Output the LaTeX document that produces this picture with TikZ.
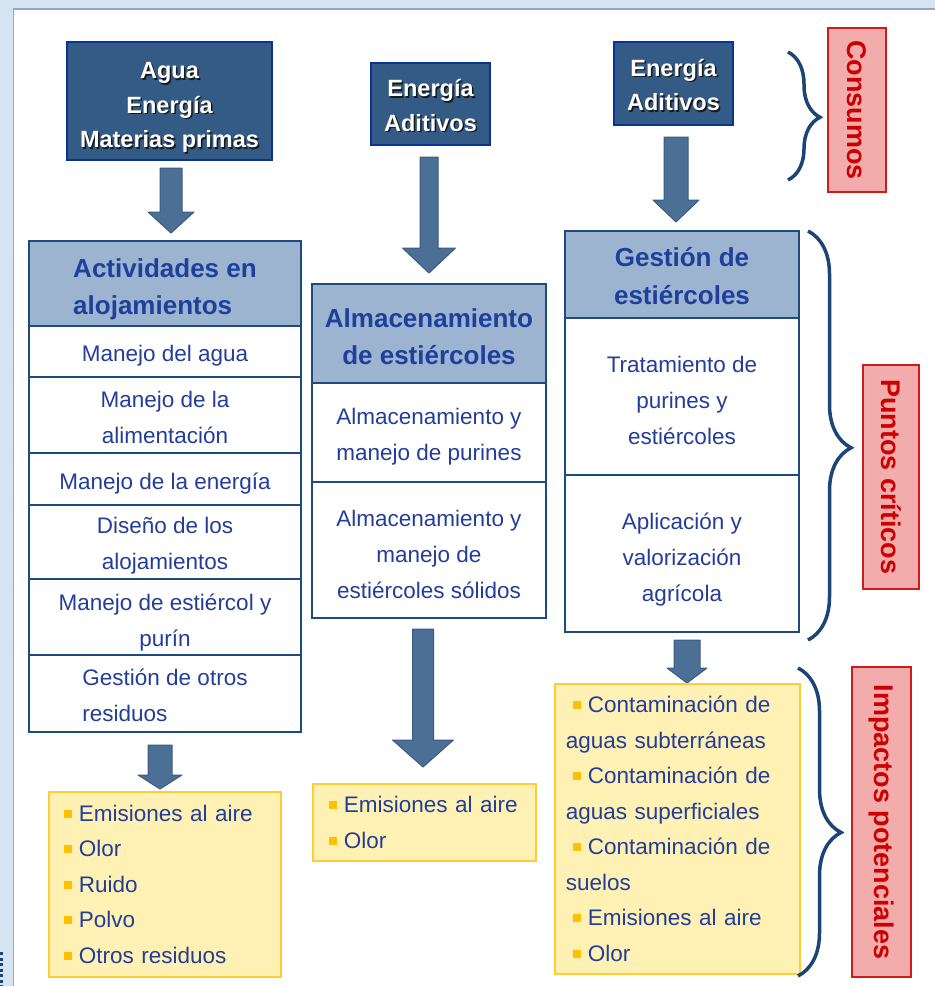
\documentclass[tikz,border=0pt]{standalone}
\usepackage{fontspec}
\setmainfont{Liberation Sans}
\usetikzlibrary{decorations.pathreplacing,calc}
\definecolor{bgblue}{HTML}{D6E3F1}
\definecolor{framel}{HTML}{8EA9C8}
\definecolor{dboxfill}{HTML}{335B85}
\definecolor{dboxline}{HTML}{0A3399}
\definecolor{hdrfill}{HTML}{9CB4CF}
\definecolor{hdrtext}{HTML}{1E3F9C}
\definecolor{celltext}{HTML}{233E99}
\definecolor{cellline}{HTML}{1F4A7C}
\definecolor{arrowfill}{HTML}{4C6F96}
\definecolor{arrowline}{HTML}{3A5C84}
\definecolor{yfill}{HTML}{FFF0B4}
\definecolor{yline}{HTML}{FFCC33}
\definecolor{bulc}{HTML}{FFC000}
\definecolor{bracec}{HTML}{1B4577}
\definecolor{redfill}{HTML}{F3ACAC}
\definecolor{redline}{HTML}{D11A1A}
\definecolor{redtext}{HTML}{CC0000}
\newcommand\bul{{\color{bulc}\rule[3.5pt]{8pt}{8pt}}\hspace{7pt}}
\newcommand\blockarrow[6]{%
  \filldraw[fill=arrowfill, draw=arrowline, line width=1pt, line join=round]
    (#1-#5,#2) -- (#1+#5,#2) -- (#1+#5,#3) -- (#1+#6,#3) -- (#1,#4)
    -- (#1-#6,#3) -- (#1-#5,#3) -- cycle;}
\begin{document}
\begin{tikzpicture}[x=1pt,y=-1pt,
  cell/.style={draw=cellline, line width=1.6pt, fill=white, inner sep=0pt},
  celltxt/.style={text=celltext, font=\fontsize{22.5}{36}\selectfont, align=center, inner sep=0pt},
  hdr/.style={draw=cellline, line width=1.6pt, fill=hdrfill, inner sep=0pt},
  hdrtxt/.style={text=hdrtext, font=\bfseries\fontsize{26}{37.5}\selectfont, align=center, inner sep=0pt},
  dbox/.style={draw=dboxline, line width=2.5pt, fill=dboxfill, inner sep=0pt},
  dtext/.style={text=white, font=\bfseries\fontsize{23.5}{34.5}\selectfont, align=center, inner sep=0pt},
  dshadow/.style={dtext, text=black!90},
  ybox/.style={draw=yline, line width=1.8pt, fill=yfill, inner ysep=0pt,
    text=celltext, font=\fontsize{22.5}{35.5}\selectfont, align=left, anchor=north west},
  redlab/.style={draw=redline, line width=1.2pt, fill=redfill, inner sep=0pt,
    text=redtext, font=\bfseries\fontsize{27}{30}\selectfont, rotate=-90},
  bracestyle/.style={draw=bracec, line width=3.5pt, decorate}
]
\useasboundingbox (0,0) rectangle (935,986);
\fill[bgblue] (0,0) rectangle (935,986);
\filldraw[draw=framel, line width=1.5pt, fill=white] (13.5,9) rectangle (950,1000);
\draw[bracec, line width=3pt, dash pattern=on 3pt off 2.5pt] (1.5,952) -- (1.5,986);

% ---- top dark boxes
\node[dbox, minimum width=205pt, minimum height=118pt] (d1) at (169.5,101) {};
\node[dshadow] (d1s) at (171,109) {Agua\\Energía\\Materias primas};
\node[dtext] (d1t) at (169.5,107.5) {Agua\\Energía\\Materias primas};

\node[dbox, minimum width=119pt, minimum height=82pt] (d2) at (430.5,104) {};
\node[dshadow] (d2s) at (432,107) {Energía\\Aditivos};
\node[dtext] (d2t) at (430.5,105.5) {Energía\\Aditivos};

\node[dbox, minimum width=119pt, minimum height=83pt] (d3) at (673.5,83.5) {};
\node[dshadow] (d3s) at (675,86.5) {Energía\\Aditivos};
\node[dtext] (d3t) at (673.5,85) {Energía\\Aditivos};

% ---- block arrows
\blockarrow{171}{168}{212}{233}{11}{23}
\blockarrow{429}{157}{248}{273}{9}{26.5}
\blockarrow{676}{137}{200}{222}{12}{23}
\blockarrow{160}{745}{775}{789}{12}{22}
\blockarrow{423}{629}{740}{767}{10.5}{30.5}
\blockarrow{687}{640}{668}{683}{13}{20}

% ---- column 1
\node[hdr, minimum width=272pt, minimum height=85pt] (c1h) at (165,283.5) {};
\node[hdrtxt, align=left] (c1ht) at (165,289.5) {Actividades en\\alojamientos};
\node[cell, minimum width=272pt, minimum height=51pt] (c1a) at (165,351.5) {};
\node[celltxt] (c1at) at (165,355.5) {Manejo del agua};
\node[cell, minimum width=272pt, minimum height=76pt] (c1b) at (165,415) {};
\node[celltxt] (c1bt) at (165,417.5) {Manejo de la\\alimentación};
\node[cell, minimum width=272pt, minimum height=52pt] (c1c) at (165,479) {};
\node[celltxt] (c1ct) at (165,484) {Manejo de la energía};
\node[cell, minimum width=272pt, minimum height=74pt] (c1d) at (165,542) {};
\node[celltxt] (c1dt) at (165,545.5) {Diseño de los\\alojamientos};
\node[cell, minimum width=272pt, minimum height=76pt] (c1e) at (165,617) {};
\node[celltxt] (c1et) at (165,622.5) {Manejo de estiércol y\\purín};
\node[cell, minimum width=272pt, minimum height=77pt] (c1f) at (165,693.5) {};
\node[celltxt, align=left] (c1ft) at (165,695.5) {Gestión de otros\\residuos};

% ---- column 2
\node[hdr, minimum width=234pt, minimum height=99pt] (c2h) at (429,333.5) {};
\node[hdrtxt] (c2ht) at (429,336.5) {Almacenamiento\\de estiércoles};
\node[cell, minimum width=234pt, minimum height=99pt] (c2a) at (429,432.5) {};
\node[celltxt] (c2at) at (429,436.5) {Almacenamiento y\\manejo de purines};
\node[cell, minimum width=234pt, minimum height=136pt] (c2b) at (429,550) {};
\node[celltxt] (c2bt) at (429,554) {Almacenamiento y\\manejo de\\estiércoles sólidos};

% ---- column 3
\node[hdr, minimum width=234pt, minimum height=87pt] (c3h) at (682,274.5) {};
\node[hdrtxt] (c3ht) at (682,276) {Gestión de\\estiércoles};
\node[cell, minimum width=234pt, minimum height=157pt] (c3a) at (682,396.5) {};
\node[celltxt] (c3at) at (682,400.5) {Tratamiento de\\purines y\\estiércoles};
\node[cell, minimum width=234pt, minimum height=157pt] (c3b) at (682,553.5) {};
\node[celltxt] (c3bt) at (682,559.5) {Aplicación y\\valorización\\agrícola};

% ---- yellow boxes
\node[ybox, minimum height=185pt, text width=202pt, inner xsep=15pt] (y1) at (48,791)
  {\bul Emisiones al aire\\\bul Olor\\\bul Ruido\\\bul Polvo\\\bul Otros residuos};
\node[ybox, minimum height=77pt, text width=191pt, inner xsep=16pt] (y2) at (312,783)
  {\bul Emisiones al aire\\\bul Olor};
\node[ybox, minimum height=290pt, text width=223pt, inner xsep=11pt] (y3) at (554,683)
  {\hspace*{7pt}\bul Contaminación de\\aguas subterráneas\\\hspace*{7pt}\bul Contaminación de\\aguas superficiales\\\hspace*{7pt}\bul Contaminación de\\suelos\\\hspace*{7pt}\bul Emisiones al aire\\\hspace*{7pt}\bul Olor};

% ---- braces
\coordinate (b1t) at (788,52);  \coordinate (b1b) at (788,180);
\coordinate (b2t) at (808,231); \coordinate (b2b) at (808,640);
\coordinate (b3t) at (798,668); \coordinate (b3b) at (798,976);
\draw[bracestyle, decoration={brace, amplitude=32pt, aspect=0.51}] (b1t) -- (b1b);
\draw[bracestyle, decoration={brace, amplitude=43pt, aspect=0.53}] (b2t) -- (b2b);
\draw[bracestyle, decoration={brace, amplitude=43pt, aspect=0.534}] (b3t) -- (b3b);

% ---- red labels
\node[redlab, minimum width=164pt, minimum height=58pt] (l1) at (857,110) {Consumos};
\node[redlab, minimum width=224pt, minimum height=56pt] (l2) at (891,477) {Puntos críticos};
\node[redlab, minimum width=310pt, minimum height=59pt] (l3) at (881.5,822) {Impactos potenciales};
\end{tikzpicture}
\end{document}
